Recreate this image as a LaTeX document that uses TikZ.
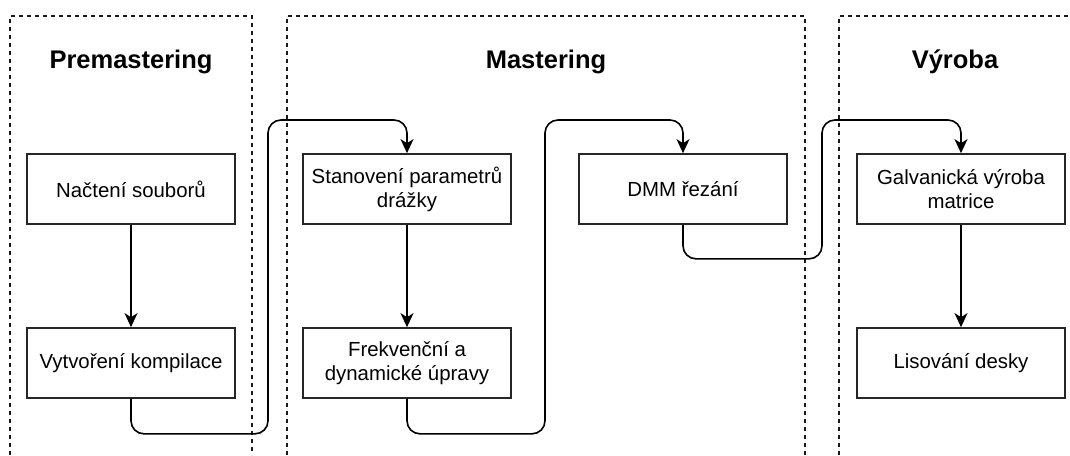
\documentclass[tikz,border=0pt]{standalone}
\usepackage{fontspec}
\setmainfont{Liberation Sans}
\usetikzlibrary{arrows.meta}
\begin{document}
\begin{tikzpicture}[x=1pt,y=-1pt,
  stage/.style={draw=black!90,line width=1.6pt,dash pattern=on 4pt off 4pt},
  title/.style={font=\fontsize{25.5}{30}\selectfont\bfseries,anchor=base},
  stepbox/.style={draw=black!85,line width=1.7pt,fill=white,minimum width=208pt,minimum height=70pt,
    inner sep=2pt,align=center,font=\fontsize{20.4}{24}\selectfont},
  flow/.style={draw=black,line width=1.6pt,rounded corners=13pt,
    -{Stealth[length=14pt,width=13pt,inset=4pt]}}]
\useasboundingbox (0,0) rectangle (1070,455);

% stage frames (open at the bottom / right)
\draw[stage] (10,455) -- (10,16) -- (252,16) -- (252,455);
\draw[stage] (287,455) -- (287,16) -- (805,16) -- (805,455);
\draw[stage] (839,455) -- (839,16) -- (1070,16);

% stage titles
\node[title] (tpre) at (131,68) {Premastering};
\node[title] (tmas) at (546,68) {Mastering};
\node[title] (tvyr) at (955,68) {Výroba};

% process steps
\node[stepbox] (nacteni) at (131,189) {Načtení souborů};
\node[stepbox] (kompilace) at (131,363) {Vytvoření kompilace};
\node[stepbox] (drazka) at (407,189) {Stanovení parametrů\\drážky};
\node[stepbox] (upravy) at (407,363) {Frekvenční a\\dynamické úpravy};
\node[stepbox] (dmm) at (683,189) {DMM řezání};
\node[stepbox] (galv) at (961,189) {Galvanická výroba\\matrice};
\node[stepbox] (lis) at (961,363) {Lisování desky};

% routing points between stages
\coordinate (r1) at (268,120);
\coordinate (r2) at (545,120);
\coordinate (r3) at (822,120);

% connectors
\draw[flow] (nacteni) -- (kompilace);
\draw[flow] (kompilace.south) -- ++(0,35) -| (r1) -| (drazka.north);
\draw[flow] (drazka) -- (upravy);
\draw[flow] (upravy.south) -- ++(0,35) -| (r2) -| (dmm.north);
\draw[flow] (dmm.south) -- ++(0,34) -| (r3) -| (galv.north);
\draw[flow] (galv) -- (lis);
\end{tikzpicture}
\end{document}
